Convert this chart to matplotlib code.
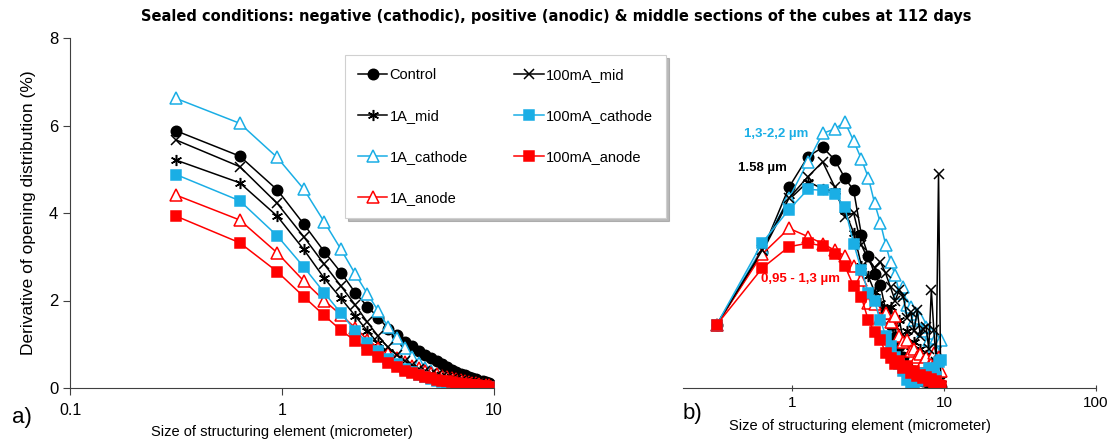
import matplotlib
matplotlib.use('Agg')
import matplotlib.pyplot as plt

# structuring element sizes (micrometer), same for both panels
size_um = [0.316, 0.632, 0.949, 1.265, 1.581, 1.897, 2.213, 2.530, 2.846, 3.162,
           3.478, 3.795, 4.111, 4.427, 4.743, 5.060, 5.376, 5.692, 6.008, 6.325,
           6.641, 6.957, 7.273, 7.590, 7.906, 8.222, 8.538, 8.854, 9.171, 9.487]

labels = ['Control', '1A_mid', '1A_cathode', '1A_anode',
          '100mA_mid', '100mA_cathode', '100mA_anode']

# panel a) derivative of opening distribution (%)
a_control = [5.88, 5.30, 4.53, 3.75, 3.12, 2.64, 2.18, 1.86, 1.61, 1.36, 1.21, 1.06, 0.95, 0.85, 0.76,
             0.68, 0.61, 0.54, 0.48, 0.42, 0.37, 0.33, 0.29, 0.26, 0.23, 0.20, 0.17, 0.15, 0.13, 0.11]
a_1a_mid = [5.21, 4.69, 3.93, 3.17, 2.51, 2.05, 1.65, 1.30, 1.02, 0.82, 0.68, 0.57, 0.49, 0.42, 0.37,
            0.33, 0.29, 0.26, 0.23, 0.21, 0.19, 0.17, 0.15, 0.13, 0.12, 0.11, 0.10, 0.09, 0.08, 0.07]
a_1a_cath = [6.62, 6.05, 5.27, 4.55, 3.80, 3.17, 2.61, 2.15, 1.76, 1.40, 1.14, 0.91, 0.72, 0.57, 0.46,
             0.38, 0.31, 0.26, 0.22, 0.18, 0.15, 0.13, 0.11, 0.09, 0.08, 0.07, 0.06, 0.05, 0.04, 0.04]
a_1a_anode = [4.41, 3.84, 3.09, 2.45, 2.00, 1.67, 1.38, 1.10, 0.92, 0.79, 0.68, 0.59, 0.51, 0.45, 0.40,
              0.35, 0.31, 0.28, 0.25, 0.22, 0.20, 0.18, 0.16, 0.14, 0.12, 0.11, 0.10, 0.08, 0.07, 0.06]
a_100_mid = [5.67, 5.06, 4.22, 3.46, 2.83, 2.33, 1.90, 1.50, 1.18, 0.93, 0.75, 0.62, 0.52, 0.44, 0.38,
             0.33, 0.29, 0.26, 0.23, 0.20, 0.18, 0.16, 0.14, 0.12, 0.11, 0.10, 0.09, 0.08, 0.07, 0.06]
a_100_cath = [4.88, 4.28, 3.48, 2.77, 2.18, 1.71, 1.31, 1.04, 0.84, 0.67, 0.54, 0.44, 0.36, 0.30, 0.25,
              0.21, 0.17, 0.14, 0.12, 0.10, 0.08, 0.07, 0.06, 0.05, 0.04, 0.04, 0.03, 0.03, 0.02, 0.02]
a_100_anode = [3.93, 3.32, 2.66, 2.09, 1.66, 1.32, 1.08, 0.88, 0.72, 0.58, 0.48, 0.40, 0.34, 0.29, 0.25,
               0.22, 0.19, 0.17, 0.15, 0.13, 0.12, 0.10, 0.09, 0.08, 0.07, 0.06, 0.05, 0.05, 0.04, 0.03]

# panel b) same sections, no y scale shown
b_control = [1.44, 3.12, 4.59, 5.29, 5.50, 5.22, 4.80, 4.52, 3.50, 3.02, 2.60, 2.35, 1.78, 1.45, 1.17,
             0.95, 0.72, 0.50, 0.30, 0.40, 0.22, 0.28, 0.15, 0.20, 0.10, 0.14, 0.06, 0.10, 0.04, 0.03]
b_1a_mid = [1.44, 3.10, 4.30, 4.72, 4.55, 4.50, 4.05, 3.55, 2.80, 2.55, 2.20, 1.95, 1.70, 1.85, 1.40,
            1.55, 1.10, 1.30, 0.85, 1.05, 0.70, 0.90, 0.55, 0.75, 0.45, 0.65, 0.35, 1.00, 0.30, 0.20]
b_1a_cath = [1.44, 3.20, 4.34, 5.17, 5.82, 5.92, 6.08, 5.65, 5.23, 4.81, 4.22, 3.78, 3.28, 2.88, 2.58,
             2.17, 2.30, 1.90, 1.85, 1.55, 1.70, 1.59, 1.30, 1.40, 1.10, 1.25, 0.95, 1.14, 0.72, 1.10]
b_1a_anode = [1.44, 3.06, 3.65, 3.46, 3.30, 3.15, 3.02, 2.79, 2.47, 1.94, 1.92, 1.60, 1.72, 1.50, 1.65,
              1.20, 1.05, 1.10, 0.85, 0.90, 0.70, 0.78, 0.60, 0.72, 0.50, 0.55, 0.80, 0.65, 0.72, 0.40]
b_100_mid = [1.44, 3.15, 4.34, 4.83, 5.17, 4.60, 3.92, 4.00, 3.27, 2.93, 2.75, 2.89, 2.62, 2.30, 2.00,
             2.24, 2.09, 1.60, 1.74, 1.30, 1.78, 1.20, 1.36, 1.40, 0.90, 2.24, 1.33, 0.60, 4.89, 0.05]
b_100_cath = [1.44, 3.32, 4.08, 4.54, 4.52, 4.43, 4.13, 3.30, 2.70, 2.17, 1.98, 1.55, 1.20, 0.95, 0.70,
              0.55, 0.40, 0.18, 0.10, 0.05, 0.30, 0.15, 0.35, 0.20, 0.45, 0.30, 0.40, 0.25, 0.60, 0.64]
b_100_anode = [1.44, 2.74, 3.23, 3.31, 3.25, 3.06, 2.79, 2.33, 2.07, 1.55, 1.27, 1.10, 0.80, 0.68, 0.55,
               0.62, 0.45, 0.50, 0.35, 0.40, 0.28, 0.30, 0.22, 0.25, 0.15, 0.20, 0.12, 0.15, 0.08, 0.05]

series_a = [a_control, a_1a_mid, a_1a_cath, a_1a_anode, a_100_mid, a_100_cath, a_100_anode]
series_b = [b_control, b_1a_mid, b_1a_cath, b_1a_anode, b_100_mid, b_100_cath, b_100_anode]

blue = '#1aaee5'
red = '#ff0000'
styles = [
    dict(color='black', marker='o', mfc='black', ms=7.5),
    dict(color='black', marker=(6, 2, 0), mfc='black', ms=8),
    dict(color=blue, marker='^', mfc='white', ms=8.5),
    dict(color=red, marker='^', mfc='white', ms=8.5),
    dict(color='black', marker='x', mfc='black', ms=7),
    dict(color=blue, marker='s', mfc=blue, ms=7.5),
    dict(color=red, marker='s', mfc=red, ms=7.5),
]

plt.rcParams['font.family'] = ['Liberation Sans', 'DejaVu Sans']

fig = plt.figure(figsize=(11.12, 4.41), dpi=100)
ax1 = fig.add_axes([70 / 1112, 1 - 388 / 441, 424 / 1112, 350 / 441])
ax2 = fig.add_axes([683 / 1112, 1 - 388 / 441, 413 / 1112, 350 / 441])

handles = []
for ys, st, lab in zip(series_a, styles, labels):
    h, = ax1.plot(size_um, ys, lw=1.1, mew=1.1, label=lab, **st)
    handles.append(h)
for ys, st in zip(series_b, styles):
    ax2.plot(size_um, ys, lw=1.1, mew=1.1, **st)

spine_col = '#404040'
ax1.set_xscale('log')
ax1.set_xlim(0.1, 10)
ax1.set_ylim(0, 8)
ax1.set_yticks([0, 2, 4, 6, 8])
ax1.set_xticks([0.1, 1, 10])
ax1.set_xticklabels(['0.1', '1', '10'])
ax1.minorticks_off()
ax1.spines[['top', 'right']].set_visible(False)
ax1.spines[['left', 'bottom']].set_color(spine_col)
ax1.tick_params(colors=spine_col, labelcolor='black', labelsize=12, length=5)
ax1.tick_params(axis='x', labelsize=11.5, pad=6)
ax1.set_ylabel('Derivative of opening distribution (%)', fontsize=12.5, labelpad=9)
ax1.set_xlabel('Size of structuring element (micrometer)', fontsize=10.5, labelpad=5)

ax2.set_xscale('log')
ax2.set_xlim(0.19, 100)
ax2.set_ylim(0, 8)
ax2.set_xticks([1, 10, 100])
ax2.set_xticklabels(['1', '10', '100'])
ax2.minorticks_off()
ax2.set_yticks([])
ax2.spines[['top', 'right', 'left']].set_visible(False)
ax2.spines['bottom'].set_color(spine_col)
ax2.tick_params(axis='x', colors=spine_col, labelcolor='black', labelsize=11, length=5, direction='inout')
ax2.set_xlabel('Size of structuring element (micrometer)', fontsize=10.5)
ax2.xaxis.set_label_coords((860 - 683) / 413, -0.088)

ax2.text(0.48, 5.8, '1,3-2,2 µm', color=blue, fontsize=9.5, fontweight='bold', va='center')
ax2.text(0.44, 5.03, '1.58 µm', color='black', fontsize=9.5, fontweight='bold', va='center')
ax2.text(0.62, 2.49, '0,95 - 1,3 µm', color=red, fontsize=9.5, fontweight='bold', va='center')

fig.text(0.5, 1 - 17 / 441,
         'Sealed conditions: negative (cathodic), positive (anodic) & middle sections of the cubes at 112 days',
         ha='center', va='center', fontsize=10.5, fontweight='bold', family='DejaVu Sans')
fig.text(12 / 1112, 1 - 418 / 441, 'a)', fontsize=16, va='center')
fig.text(683 / 1112, 1 - 413 / 441, 'b)', fontsize=16, va='center')

leg = fig.legend(handles=handles, ncol=2, loc='upper left',
                 bbox_to_anchor=(345 / 1112, 1 - 55 / 441), fontsize=10.5,
                 frameon=True, fancybox=False, shadow={'color': '0.55', 'alpha': 0.6},
                 labelspacing=1.85, handlelength=2.0, handletextpad=0.15,
                 columnspacing=3.2, borderpad=0.9, borderaxespad=0)
leg.get_frame().set_edgecolor('#d0d0d0')
leg.get_frame().set_linewidth(0.8)

fig.savefig('out.png', dpi=100)
